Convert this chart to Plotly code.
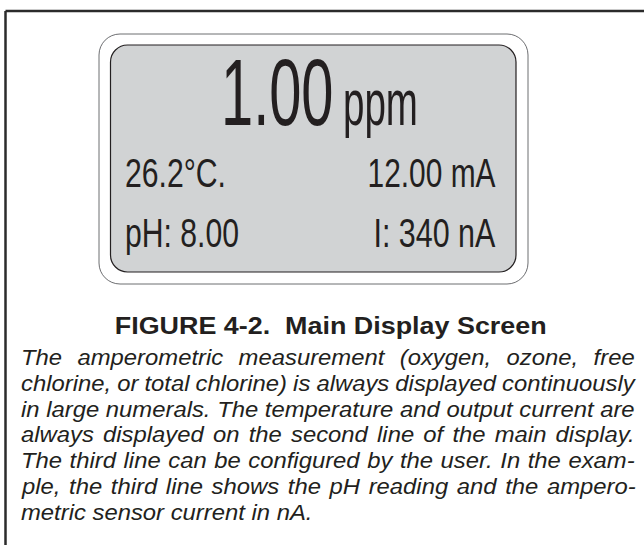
import json
import plotly.graph_objects as go

# ---------------- content ----------------
reading_value = "1.00"
reading_unit = "ppm"
row2_left = "26.2°C."
row2_right = "12.00 mA"
row3_left = "pH: 8.00"
row3_right = "I: 340 nA"
caption_text = "FIGURE 4-2.\u00a0 Main Display Screen"
body_lines = [
    "The amperometric measurement (oxygen, ozone, free",
    "chlorine, or total chlorine) is always displayed continuously",
    "in large numerals. The temperature and output current are",
    "always displayed on the second line of the main display.",
    "The third line can be configured by the user. In the exam-",
    "ple, the third line shows the pH reading and the ampero-",
    "metric sensor current in nA.",
]

# ---------------- layout / style ----------------
W, H = 644, 545
FONT = "Liberation Sans, Arial, Helvetica, sans-serif"
INK = "#231f20"
BASE = 0.3465  # baseline offset (em) below the middle of a Liberation Sans text box

fig = go.Figure()
fig.add_trace(go.Scatter(x=[0, W], y=[0, H], mode="markers",
                         marker=dict(opacity=0), hoverinfo="skip", showlegend=False))
fig.update_layout(
    width=W, height=H, margin=dict(l=0, r=0, t=0, b=0),
    paper_bgcolor="white", plot_bgcolor="white", showlegend=False,
    xaxis=dict(range=[0, W], visible=False, fixedrange=True),
    yaxis=dict(range=[H, 0], visible=False, fixedrange=True),
)


def rrect(x0, y0, x1, y1, r):
    k = 0.5523 * r
    return (f"M{x0 + r},{y0} L{x1 - r},{y0} "
            f"C{x1 - r + k},{y0} {x1},{y0 + r - k} {x1},{y0 + r} "
            f"L{x1},{y1 - r} "
            f"C{x1},{y1 - r + k} {x1 - r + k},{y1} {x1 - r},{y1} "
            f"L{x0 + r},{y1} "
            f"C{x0 + r - k},{y1} {x0},{y1 - r + k} {x0},{y1 - r} "
            f"L{x0},{y0 + r} "
            f"C{x0},{y0 + r - k} {x0 + r - k},{y0} {x0 + r},{y0} Z")


# page frame (top and left rules)
fig.add_shape(type="line", xref="x", yref="y", x0=5.5, y0=11, x1=W, y1=11,
              line=dict(color="#2b2b2b", width=2.5))
fig.add_shape(type="line", xref="x", yref="y", x0=5.5, y0=11, x1=5.5, y1=H,
              line=dict(color="#2b2b2b", width=2.5))
# display bezel and screen
fig.add_shape(type="path", xref="x", yref="y", path=rrect(99, 34, 528, 284, 21),
              fillcolor="white", line=dict(color="#6d6e71", width=1))
fig.add_shape(type="path", xref="x", yref="y", path=rrect(110.5, 45, 516, 272, 17),
              fillcolor="#d1d3d4", line=dict(color="#231f20", width=1.2))

annotations = []
fx = []


def add_text(text, x, baseline, size, anchor, weight="normal", style="normal",
             w=None, justify=False, sx=1.0):
    annotations.append(dict(
        text=text, x=x, y=baseline - BASE * size, xref="x", yref="y",
        xanchor=anchor, yanchor="middle", align=anchor, showarrow=False, borderpad=0,
        font=dict(family=FONT, size=size, color=INK, weight=weight, style=style),
    ))
    fx.append(dict(w=w, justify=justify, sx=sx, origin=anchor))


# display contents (condensed LCD-style type)
add_text(reading_value, 220, 125, 95, "left", w=112.5)
add_text(reading_unit, 341.5, 125, 64, "left", w=75)
add_text(row2_left, 123.5, 187.7, 41, "left", w=101)
add_text(row2_right, 496.5, 187.7, 41, "right", w=128)
add_text(row3_left, 123.5, 247.3, 41, "left", w=114)
add_text(row3_right, 496.5, 247.3, 41, "right", w=122)

# caption
add_text(caption_text, 330, 334, 24, "center", weight="bold", w=432)

# justified italic body text
for i, line in enumerate(body_lines):
    last = i == len(body_lines) - 1
    add_text(line, 20, 365.5 + i * 25.75, 22.5, "left", style="italic",
             w=None if last else 614, justify=not last, sx=1.06)

fig.update_layout(annotations=annotations)

post = """
document.documentElement.style.margin='0';
document.body.style.margin='0';
document.body.style.overflow='hidden';
var gd=document.getElementById('{plot_id}');
var cfg=__CFG__;
function fit(){
  gd.querySelectorAll('g.annotation').forEach(function(g){
    var i=parseInt(g.getAttribute('data-index'));
    var c=cfg[i]; if(!c) return;
    var t=g.querySelector('text.annotation-text'); if(!t) return;
    var L=t.getComputedTextLength(); if(!L) return;
    var sx=c.sx||1;
    if(c.w){
      if(c.justify){
        var n=(t.textContent.match(/[ \\u00a0]/g)||[]).length;
        if(n>0) t.style.wordSpacing=((c.w/sx-L)/n)+'px';
      } else { sx=c.w/L; }
    }
    t.style.transformBox='fill-box';
    t.style.transformOrigin=c.origin+' center';
    t.style.transform='scaleX('+sx+')';
  });
}
fit();
""".replace("__CFG__", json.dumps(fx))

fig.write_html("out.html", post_script=post,
               config=dict(displayModeBar=False, responsive=False, staticPlot=True))
